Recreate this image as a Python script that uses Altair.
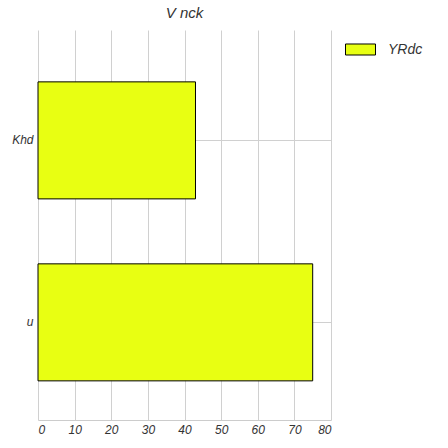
import altair as alt
import pandas as pd

categories = ["Khd", "u"]
values = [43, 75]
series = "YRdc"

df = pd.DataFrame({"cat": categories, "val": values, "series": [series] * len(categories)})

FONT = "Liberation Sans"

chart = alt.Chart(df).mark_bar(stroke="black", strokeWidth=1, opacity=1).encode(
    x=alt.X("val:Q", scale=alt.Scale(domain=[0, 80], nice=False, zero=True),
            axis=alt.Axis(title=None, values=[0, 10, 20, 30, 40, 50, 60, 70, 80],
                          ticks=False, domain=True, domainColor="#cccccc",
                          grid=True, gridColor="#d0d0d0", gridOpacity=1, labelFontStyle="italic",
                          labelFont=FONT, labelFontSize=12, labelColor="#333333",
                          labelPadding=4)),
    y=alt.Y("cat:N", sort=categories,
            scale=alt.Scale(paddingInner=0.357, paddingOuter=0.25, align=0.57),
            axis=alt.Axis(title=None, ticks=False, domain=False, grid=True,
                          gridColor="#d0d0d0", gridOpacity=1, labelFontStyle="italic", labelFont=FONT,
                          labelFontSize=12, labelColor="#333333", labelPadding=5)),
    fill=alt.Fill("series:N", scale=alt.Scale(range=["#e8ff12"]),
                  legend=alt.Legend(title=None, orient="none", legendX=307, legendY=4,
                                    symbolType="M-1,-0.367H1V0.367H-1Z", symbolSize=900,
                                    symbolStrokeColor="black", symbolStrokeWidth=1,
                                    symbolFillColor="#e8ff12",
                                    labelFont=FONT, labelFontStyle="italic", labelFontSize=14,
                                    labelColor="#333333", labelOffset=12)),
).properties(
    width=293, height=390,
    title=alt.TitleParams("V nck", font=FONT, fontStyle="italic", fontSize=15,
                          fontWeight="normal", color="#333333", offset=9),
    autosize=alt.AutoSizeParams(type="none"),
    padding={"left": 38, "top": 30, "right": 117, "bottom": 28},
).configure_view(stroke=None)

chart.save("out.html", embed_options={"renderer": "svg", "actions": False})
